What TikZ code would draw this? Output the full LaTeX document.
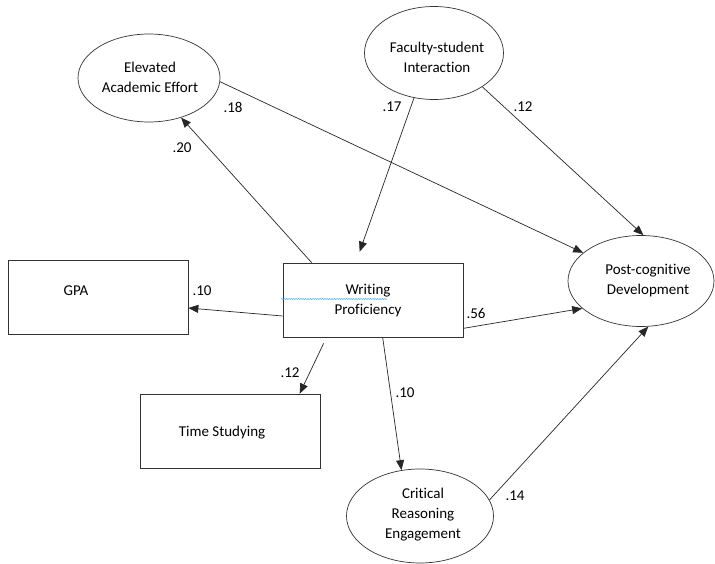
\documentclass[tikz,border=0pt]{standalone}
\usepackage{fontspec}
\setmainfont[Ligatures=NoCommon]{Carlito}
\usetikzlibrary{arrows.meta,decorations.pathmorphing,shapes.geometric}
\begin{document}
\begin{tikzpicture}[x=1pt,y=-1pt,
  every node/.style={font=\fontsize{15pt}{20pt}\selectfont, inner sep=0pt, text=black},
  oval/.style={draw=black!80, ellipse, line width=0.7pt},
  box/.style={draw=black!80, rectangle, line width=0.7pt, minimum width=180pt, minimum height=74pt},
  txt/.style={align=center},
  conn/.style={draw=black!85, line width=0.7pt, -{Triangle[length=10pt,width=8pt]}}]

\useasboundingbox (0,0) rectangle (715,564);

% shapes
\node[oval, minimum width=142pt, minimum height=88pt] (elev) at (149,78) {};
\node[oval, minimum width=139pt, minimum height=93pt] (fac) at (434,53) {};
\node[oval, minimum width=146pt, minimum height=91pt] (post) at (641,281) {};
\node[oval, minimum width=147pt, minimum height=94pt] (crit) at (420,516) {};
\node[box] (gpa) at (98,297) {};
\node[box] (wp) at (373,300) {};
\node[box] (ts) at (230,431) {};

% texts
\node[txt] (elevtxt) at (150,77) {Elevated\\Academic Effort};
\node[txt] (factxt) at (437,57) {Faculty-student\\Interaction};
\node[txt] (posttxt) at (648,281) {Post-cognitive\\Development};
\node[txt] (crittxt) at (423,515) {Critical\\Reasoning\\Engagement};
\node[txt] (gpatxt) at (76,291) {GPA};
\node[txt] (wptxt) at (368,301) {Writing\\Proficiency};
\node[txt] (tstxt) at (222,433) {Time Studying};

% spell-check squiggle
\draw[blue!45!cyan!80, line width=0.5pt, decorate, decoration={snake, amplitude=0.5pt, segment length=2.4pt}] (281,299) -- (387,299);

% connectors
\draw[conn] ([xshift=29pt]wp.north west) -- (elev.-51);
\draw[conn] (elev.-3) -- (post.154);
\draw[conn] (fac.-114) -- ([xshift=77pt,yshift=11pt]wp.north west);
\draw[conn] (fac.-35.5) -- (post.87.5);
\draw[conn] ([yshift=-16pt]wp.west) -- ([yshift=-11pt]gpa.east);
\draw[conn] ([xshift=41pt,yshift=-6pt]wp.south west) -- ([xshift=160pt]ts.north west);
\draw[conn] ([yshift=9pt]wp.south east) -- (post.-155);
\draw[conn] ([xshift=100pt]wp.south west) -- (crit.112.4);
\draw[conn] (crit.13.3) -- (post.-81);

% coefficients
\node (l20) at (182,148) {.20};
\node (l18) at (233,107) {.18};
\node (l17) at (392,107) {.17};
\node (l12a) at (523,107) {.12};
\node (l10a) at (202,291) {.10};
\node (l12b) at (290,373) {.12};
\node (l56) at (476,313) {.56};
\node (l10b) at (405,393) {.10};
\node (l14) at (515,496) {.14};
\end{tikzpicture}
\end{document}
